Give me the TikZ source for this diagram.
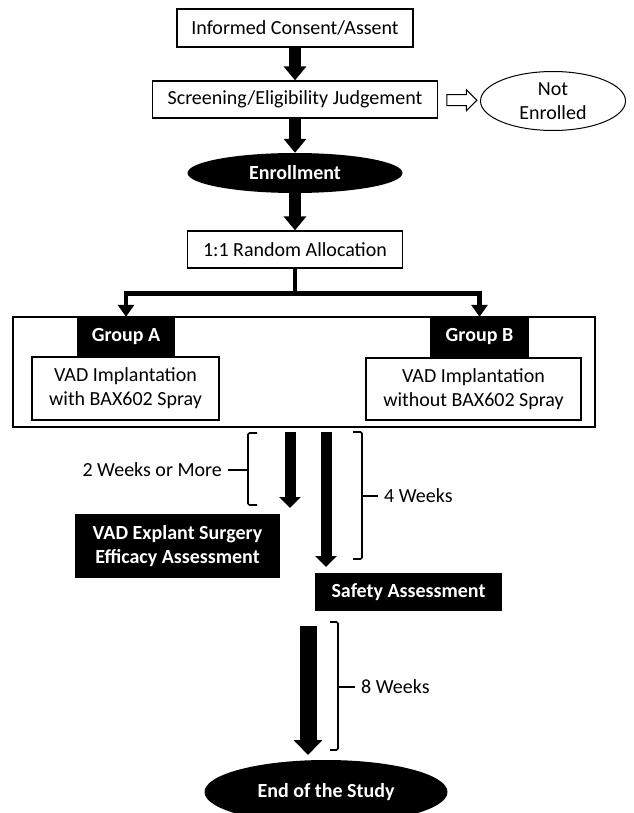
\documentclass[tikz,border=0pt]{standalone}
\usepackage{fontspec}
\setmainfont{Carlito}
\usepackage{tikz}
\usetikzlibrary{positioning, arrows.meta, calc, shapes.geometric, shapes.arrows}
\newcommand{\flowfont}{\fontsize{20}{24}\selectfont}

\tikzset{
  stepbox/.style={draw, line width=1.3pt, fill=white, align=center, inner sep=0pt, font=\flowfont},
  darkbox/.style={fill=black, text=white, align=center, inner sep=0pt, font=\flowfont\bfseries},
  darkoval/.style={ellipse, fill=black, text=white, align=center, inner sep=0pt, font=\flowfont\bfseries},
  fatarrow/.style={line width=12pt, -{Triangle[width=22pt, length=14pt]}},
  droparrow/.style={line width=11pt, -{Triangle[width=21pt, length=11pt]}},
  longarrow/.style={line width=17pt, -{Triangle[width=28pt, length=15pt]}},
  splitline/.style={line width=4.5pt, -{Triangle[width=16pt, length=12pt]}},
  bracket/.style={line width=1.6pt, rounded corners=1.5pt},
  weeks/.style={inner sep=6pt, font=\flowfont},
}

\begin{document}
\begin{tikzpicture}[x=1pt, y=-1pt]
  \useasboundingbox (0,0) rectangle (633,813);

  \node[stepbox, minimum width=236pt, minimum height=38pt] (consent) at (295,28) {Informed Consent/Assent};
  \node[stepbox, minimum width=285pt, minimum height=37pt] (screen) at (295,99.5) {Screening/Eligibility Judgement};
  \node[stepbox, ellipse, line width=1pt, minimum width=145pt, minimum height=59pt] (notenr) at (553,101) {Not\\Enrolled};
  \node[darkoval, minimum width=215pt, minimum height=40pt] (enroll) at (295,173) {Enrollment};
  \node[stepbox, minimum width=215pt, minimum height=37pt] (random) at (295,249.5) {1:1 Random Allocation};

  \node[single arrow, draw, fill=white, line width=1pt, inner sep=5pt, minimum height=30pt,
        single arrow head extend=5pt] (skip) at ($(screen.east)!0.5!(notenr.west)$) {};

  \draw[fatarrow] (consent) -- (screen);
  \draw[fatarrow] (screen) -- (enroll);
  \draw[fatarrow] (enroll) -- (random);

  \node[draw, line width=2.5pt, minimum width=582pt, minimum height=110pt] (groups) at (304,372) {};
  \node[darkbox, minimum width=98pt, minimum height=40pt] (grpA) at (126,337) {Group A};
  \node[darkbox, minimum width=99pt, minimum height=40pt] (grpB) at (479.5,337) {Group B};
  \node[stepbox, minimum width=187pt, minimum height=63pt] (implA) at (125.5,388.5) {VAD Implantation\\with BAX602 Spray};
  \node[stepbox, minimum width=215pt, minimum height=62pt] (implB) at (473.5,389) {VAD Implantation\\without BAX602 Spray};

  \coordinate (fork) at ($(random.south)+(0,25)$);
  \draw[splitline] (random.south) -- (fork) -| (grpA.north);
  \draw[splitline] (fork) -| (grpB.north);

  \coordinate (twoStart) at (290,432);
  \coordinate (twoEnd) at (290,508);
  \coordinate (fourStart) at (326,432);
  \coordinate (fourEnd) at (326,567);
  \draw[droparrow] (twoStart) -- (twoEnd);
  \draw[droparrow] (fourStart) -- (fourEnd);

  \node[darkbox, minimum width=205pt, minimum height=64pt] (explant) at (177.5,546) {VAD Explant Surgery\\Efficacy Assessment};
  \node[darkbox, minimum width=187pt, minimum height=38pt] (safety) at (408.5,592) {Safety Assessment};

  \draw[bracket] (257,433) -- (248,433) -- (248,505) -- (257,505);
  \node[weeks, anchor=east] (two) at (228,470) {2 Weeks or More};
  \draw[bracket] (248,470) -- (two);

  \draw[bracket] (353,432) -- (362,432) -- (362,559) -- (353,559);
  \node[weeks, anchor=west] (four) at (378,496) {4 Weeks};
  \draw[bracket] (362,496) -- (four);

  \coordinate (eightStart) at (308,626);
  \coordinate (eightEnd) at (308,755);
  \draw[longarrow] (eightStart) -- (eightEnd);

  \draw[bracket] (330,622) -- (338,622) -- (338,750) -- (330,750);
  \node[weeks, anchor=west] (eight) at (355,687) {8 Weeks};
  \draw[bracket] (338,687) -- (eight);

  \node[darkoval, minimum width=243pt, minimum height=64pt] (finish) at (326,792) {End of the Study};
\end{tikzpicture}
\end{document}
